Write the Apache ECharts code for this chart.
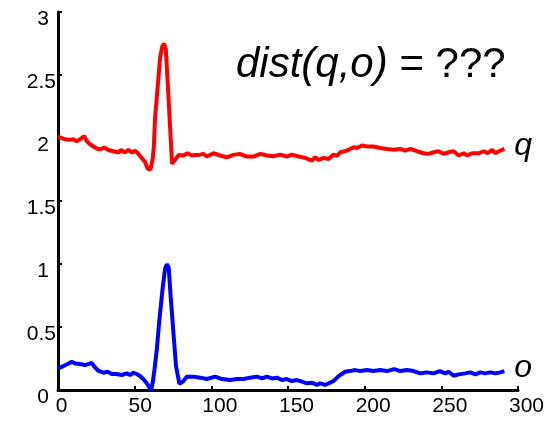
<!DOCTYPE html>
<html>
<head>
<meta charset="utf-8">
<script src="https://cdn.jsdelivr.net/npm/echarts@6/dist/echarts.min.js"></script>
<style>html,body{margin:0;padding:0;background:#fff}#c{width:552px;height:421px}</style>
</head>
<body>
<div id="c"></div>
<script>
// Query series q (red)
const qX = [0,4.6,7.8,10,12.2,14.4,17.2,18.7,20.9,24.1,26.3,28.5,30.2,32.8,36.1,39.4,41.1,43.7,45.9,48.5,50.3,52.4,55,56.8,58.5,59.4,60.3,61.8,62.5,63.3,64.8,66.6,68.1,69.2,70.3,71.6,73.1,74.4,75.7,77.5,78.8,81.8,84.4,87.3,89.4,92.7,94.9,97.1,101.4,105.7,110.1,114.4,118.4,123.2,127.5,131.9,136.2,140.6,144.9,149.3,152.5,156.9,161.2,165.6,167.8,169.9,173.2,176.4,179.7,181.9,184.1,188.4,192.8,195,198.2,201.5,205.8,210.2,214.5,218.9,223.2,226.5,229.8,234.1,238.4,241.7,245,248.2,251.5,254.8,258,261.3,264.6,266.8,270,274.4,277.6,280.2,283.1,285.2,288.5,291.1];
const qY = [2.01,1.99,1.985,1.99,1.975,1.99,2.015,1.975,1.95,1.925,1.91,1.915,1.925,1.905,1.895,1.885,1.905,1.885,1.905,1.885,1.90,1.875,1.835,1.81,1.755,1.75,1.75,1.84,1.93,2.16,2.375,2.64,2.73,2.75,2.705,2.43,2.085,1.795,1.78,1.845,1.866,1.861,1.879,1.861,1.866,1.868,1.874,1.853,1.879,1.861,1.847,1.866,1.874,1.853,1.853,1.874,1.861,1.855,1.868,1.853,1.868,1.853,1.842,1.821,1.847,1.826,1.842,1.834,1.868,1.858,1.887,1.900,1.926,1.921,1.940,1.932,1.932,1.921,1.913,1.906,1.913,1.900,1.913,1.895,1.879,1.874,1.887,1.895,1.874,1.887,1.895,1.861,1.879,1.861,1.879,1.879,1.895,1.879,1.906,1.879,1.900,1.913];
// Candidate series o (blue)
const oX = [0,3.5,6.3,8.9,11.1,14.4,17.6,19.8,22,23.7,26.3,29.6,32.4,35,38.3,41.6,44.8,47,49.2,51.3,53.5,55.7,57.9,60.7,61.8,62.9,64.4,66.1,68.1,69.8,71,72.2,73.5,75.3,77,79.2,81.4,84,88.3,92.7,97.1,102.5,106.9,112.3,116.6,121,125.3,129.7,133,136.2,139.5,142.8,146,149.3,152.5,155.8,159.1,162.3,165.6,168.9,171,174.3,176.5,179.7,181.9,184.1,187.3,190.2,193.9,197.1,201.5,205.8,210.2,214.5,219.3,223.2,227.6,231.9,236.3,240.6,245,248.9,252.6,254.8,258,261.3,265.7,268.9,272.2,275.4,278.7,282,285.2,288.5,291.1];
const oY = [0.172,0.19,0.206,0.224,0.211,0.206,0.198,0.206,0.216,0.185,0.153,0.137,0.145,0.127,0.127,0.119,0.132,0.119,0.137,0.127,0.111,0.085,0.053,0.0,0.06,0.16,0.317,0.554,0.792,0.963,0.998,0.971,0.739,0.449,0.185,0.048,0.066,0.106,0.106,0.098,0.087,0.106,0.087,0.079,0.087,0.087,0.098,0.106,0.092,0.106,0.092,0.098,0.079,0.087,0.071,0.079,0.066,0.053,0.058,0.040,0.053,0.040,0.053,0.071,0.098,0.119,0.145,0.150,0.158,0.150,0.158,0.150,0.158,0.150,0.166,0.150,0.158,0.150,0.132,0.140,0.132,0.150,0.132,0.145,0.113,0.124,0.132,0.140,0.124,0.140,0.132,0.140,0.132,0.140,0.150];
const xTicks = [0,50,100,150,200,250,300];
const yTicks = [0,0.5,1,1.5,2,2.5,3];
const seriesNames = ['q','o'];
const titleItalic = 'dist(q,o)';
const titleRest = ' = ???';

const zip = (xs, ys) => xs.map((x, i) => [x, ys[i]]);
const font = '"Liberation Sans", Arial, sans-serif';
const axisCommon = {
  axisLine: { show: true, lineStyle: { color: '#000', width: 3 } },
  axisTick: { show: true, inside: true, length: 4, lineStyle: { color: '#000', width: 2 } },
  splitLine: { show: false }
};
const lbl = { color: '#000', fontSize: 21, fontFamily: font };
const chart = echarts.init(document.getElementById('c'), null, { renderer: 'canvas' });
chart.setOption({
  animation: false,
  backgroundColor: '#fff',
  grid: { left: 58, right: 34, top: 12, bottom: 31, containLabel: false },
  xAxis: Object.assign({
    type: 'value', min: xTicks[0], max: xTicks[xTicks.length - 1], interval: 50,
    axisLabel: { color: '#000', fontSize: 21, fontFamily: font, margin: 6,
      formatter: v => { const s = String(v); return '{' + (s.length === 1 ? 'a' : s.length === 2 ? 'b' : 'c') + '|' + s + '}'; },
      rich: {
        a: Object.assign({ padding: [0, 0, 0, 7] }, lbl),
        b: Object.assign({ padding: [0, 0, 0, 11] }, lbl),
        c: Object.assign({ padding: [0, 0, 0, 17] }, lbl)
      } }
  }, axisCommon),
  yAxis: Object.assign({
    type: 'value', min: yTicks[0], max: yTicks[yTicks.length - 1], interval: 0.5,
    axisLabel: { color: '#000', fontSize: 21, fontFamily: font, margin: 2, verticalAlign: 'top', lineHeight: 14,
      formatter: v => { const s = String(v); return '{' + (s.indexOf('.') < 0 ? 'i' : 'd') + '|' + s + '}'; },
      rich: {
        i: Object.assign({ lineHeight: 14, padding: [0, 7, 0, 0] }, lbl),
        d: Object.assign({ lineHeight: 14 }, lbl)
      } }
  }, axisCommon),
  graphic: [{
    type: 'text', left: 236, top: 44,
    style: {
      text: '{i|' + titleItalic + '}{n|' + titleRest + '}',
      rich: {
        i: { fontSize: 42, fontStyle: 'italic', fontFamily: font, fill: '#000' },
        n: { fontSize: 42, fontFamily: font, fill: '#000' }
      }
    }
  }],
  series: [
    { name: seriesNames[0], type: 'line', data: zip(qX, qY), showSymbol: false,
      lineStyle: { color: '#ff0000', width: 4 }, itemStyle: { color: '#ff0000' },
      endLabel: { show: true, formatter: seriesNames[0], color: '#000', fontSize: 32, fontStyle: 'italic',
        fontFamily: font, distance: 10, offset: [0, -3] } },
    { name: seriesNames[1], type: 'line', data: zip(oX, oY), showSymbol: false,
      lineStyle: { color: '#0000ff', width: 4 }, itemStyle: { color: '#0000ff' },
      endLabel: { show: true, formatter: seriesNames[1], color: '#000', fontSize: 32, fontStyle: 'italic',
        fontFamily: font, distance: 10, offset: [0, -3] } }
  ]
});
</script>
</body>
</html>
